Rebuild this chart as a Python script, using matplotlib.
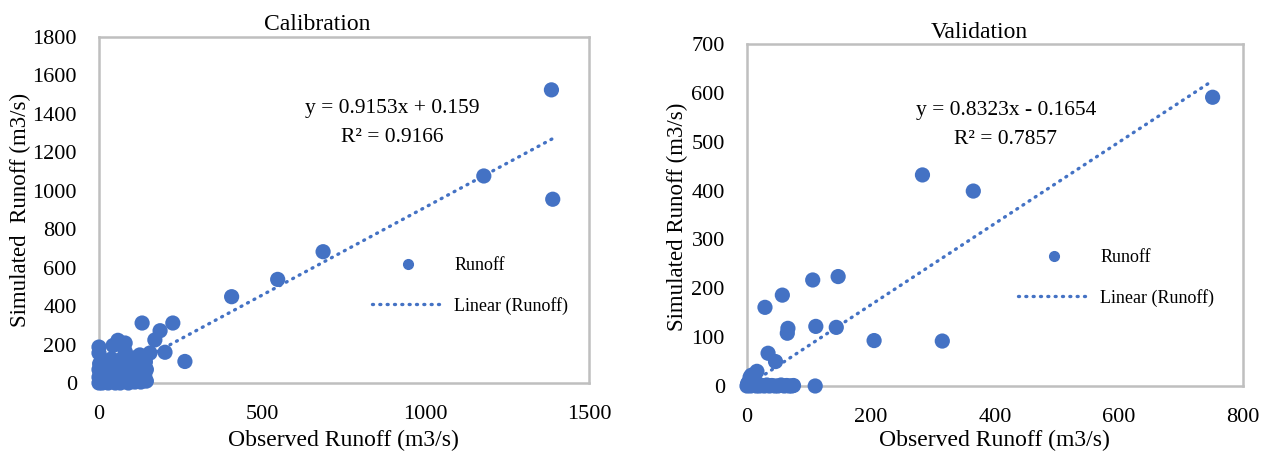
import numpy as np
import matplotlib
matplotlib.use("Agg")
import matplotlib.pyplot as plt
from matplotlib.lines import Line2D

# Calibration data (observed vs simulated runoff, m3/s)
cal_obs = [1385, 1389, 1178, 686, 547, 406, 263, 226, 132, 187, 171, 202, 156,
           0, 0, 58, 80, 43, 80, 125,
           0, 2, 5, 8, 10, 12, 15, 18, 20, 3, 5, 2, 8, 25, 30, 35, 40, 45, 50,
           55, 60, 62, 65, 70, 75, 80, 85, 88, 90, 95, 100, 105, 110, 115, 120,
           125, 130, 135, 140, 145, 100, 70, 30, 20, 10, 50, 28, 65, 110, 135,
           120, 90, 40, 15, 6, 0, 0, 22, 48, 58, 78, 98, 118, 138,
           145, 140, 130, 112, 95, 82, 68, 52, 38, 25, 12, 60, 105, 128, 75,
           35, 18, 88, 115, 142]
cal_sim = [1525, 956, 1077, 683, 539, 449, 112, 312, 312, 272, 224, 160, 156,
           187, 156, 222, 208, 195, 165, 146,
           0, 5, 2, 10, 0, 20, 5, 35, 12, 60, 80, 100, 45, 25, 8, 50, 15, 70, 30,
           5, 100, 45, 120, 20, 60, 10, 90, 35, 0, 70, 50, 20, 95, 40, 80,
           30, 60, 45, 85, 70, 110, 85, 90, 65, 120, 0, 0, 0, 5, 100,
           125, 120, 110, 30, 15, 30, 70, 45, 55, 75, 40, 30, 60, 20,
           10, 40, 15, 70, 105, 120, 110, 95, 125, 105, 85, 60, 130, 5, 35,
           20, 55, 50, 10, 110]
cal_fit = [0.9153, 0.159]
cal_r2 = 0.9166

# Validation data
val_obs = [751, 283, 365, 147, 106, 57, 29, 66, 65, 111, 144, 205, 315, 34, 46,
           16, 110,
           0, 2, 4, 6, 8, 10, 12, 5, 15, 18, 20, 24, 28, 32, 36, 40, 45, 50, 55,
           60, 64, 68, 72, 75, 3, 7, 1]
val_sim = [591, 432, 399, 224, 217, 186, 161, 118, 108, 122, 120, 93, 92, 67, 50,
           30, 0,
           0, 1, 3, 0, 5, 12, 2, 18, 0, 4, 0, 1, 0, 2, 0, 1, 0, 0, 2,
           0, 1, 0, 0, 1, 8, 22, 5]
val_fit = [0.8323, -0.1654]
val_r2 = 0.7857

W, H = 1262, 454
BLUE = "#4472C4"
GREY = "#BFBFBF"
FONT = "Liberation Serif"

fig = plt.figure(figsize=(W / 100, H / 100), dpi=100)


def px(x, y):
    return x / W, 1 - y / H


def draw(rect, obs, sim, fit, r2, xmax, ymax, xstep, ystep, title, tpos,
         xlab_pos, ylab, ylab_pos, eq_pos, leg_pos, eq_fmt):
    ax = fig.add_axes(rect)
    ax.scatter(obs, sim, s=120, color=BLUE, edgecolors="none", zorder=3,
               clip_on=False)
    xs = np.array([min(obs), max(obs)])
    ax.plot(xs, fit[0] * xs + fit[1], color=BLUE, lw=2.4,
            linestyle=(0, (0.3, 1.9)), dash_capstyle="round", zorder=2)
    ax.set_xlim(0, xmax)
    ax.set_ylim(0, ymax)
    ax.set_xticks(np.arange(0, xmax + 1, xstep))
    ax.set_yticks(np.arange(0, ymax + 1, ystep))
    ax.tick_params(length=0, labelsize=16, pad=16)
    for lab in ax.get_xticklabels() + ax.get_yticklabels():
        lab.set_fontfamily(FONT)
    for sp in ax.spines.values():
        sp.set_color(GREY)
        sp.set_linewidth(1.8)

    fig.text(*px(*tpos), title, ha="center", va="center", fontsize=17,
             family=FONT)
    fig.text(*px(*xlab_pos), "Observed Runoff (m3/s)", ha="center",
             va="center", fontsize=17, family=FONT)
    fig.text(*px(*ylab_pos), ylab, ha="center", va="center", fontsize=16.5,
             family=FONT, rotation=90)
    fig.text(*px(eq_pos[0], eq_pos[1]), eq_fmt.format(fit[0], abs(fit[1])),
             ha="center", va="center", fontsize=15.5, family=FONT)
    fig.text(*px(eq_pos[0], eq_pos[1] + 29), "R² = {:.4f}".format(r2),
             ha="center", va="center", fontsize=15.5, family=FONT)

    handles = [Line2D([], [], marker="o", color=BLUE, linestyle="none",
                      markersize=7),
               Line2D([], [], color=BLUE, lw=2.4, linestyle=(0, (0.3, 1.9)),
                      dash_capstyle="round")]
    fx, fy = px(*leg_pos)
    ax.legend(handles, ["Runoff", "Linear (Runoff)"], loc="center left",
              bbox_to_anchor=(fx, fy), bbox_transform=fig.transFigure,
              frameon=False, borderpad=0, borderaxespad=0, handlelength=4.0,
              handletextpad=0.55, labelspacing=1.25,
              prop={"family": FONT, "size": 13})
    return ax


draw([99 / W, (H - 383) / H, 490 / W, 346 / H], cal_obs, cal_sim, cal_fit,
     cal_r2, 1500, 1800, 500, 200, "Calibration", (317, 25), (343, 440),
     "Simulated  Runoff (m3/s)", (20, 210), (392, 108), (372, 286),
     "y = {:.4f}x + {:.3f}")
draw([747 / W, (H - 386) / H, 496 / W, 342 / H], val_obs, val_sim, val_fit,
     val_r2, 800, 700, 200, 100, "Validation", (979, 32), (994, 440),
     "Simulated Runoff (m3/s)", (677, 217), (1006, 111), (1018, 278),
     "y = {:.4f}x - {:.4f}")

fig.savefig("out.png", dpi=100)
